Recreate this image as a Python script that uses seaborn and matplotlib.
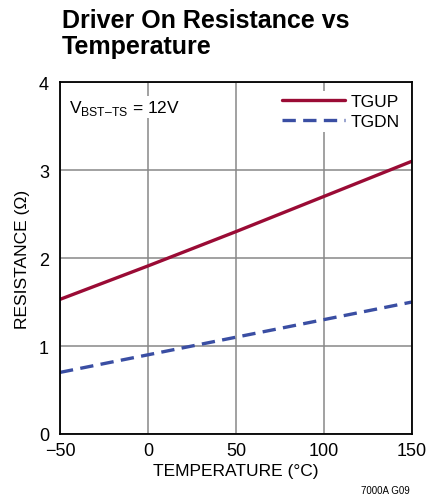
import numpy as np
import pandas as pd
import matplotlib
matplotlib.use("Agg")
import matplotlib.pyplot as plt
import seaborn as sns
from matplotlib.lines import Line2D

# data
temperature = [-50, 0, 50, 100, 150]
tgup = [1.53, 1.91, 2.30, 2.70, 3.10]
tgdn = [0.70, 0.90, 1.10, 1.30, 1.50]

x_ticks = [-50, 0, 50, 100, 150]
x_labels = ["\u221250", "0", "50", "100", "150"]
y_ticks = [0, 1, 2, 3, 4]

df = pd.DataFrame({
    "temp": temperature * 2,
    "res": tgup + tgdn,
    "driver": ["TGUP"] * len(tgup) + ["TGDN"] * len(tgdn),
})

sns.set_style("white")
fam = "Liberation Sans"
plt.rcParams["font.family"] = [fam, "DejaVu Sans"]
plt.rcParams["mathtext.fontset"] = "custom"
plt.rcParams["mathtext.rm"] = fam
for k in ["text.color", "axes.labelcolor", "xtick.color", "ytick.color"]:
    plt.rcParams[k] = "black"

fig = plt.figure(figsize=(4.42, 5.02), dpi=100)
ax = fig.add_axes([60 / 442, 67 / 502, 352 / 442, 352 / 502])

palette = {"TGUP": "#9a0b35", "TGDN": "#3a4ea3"}
sns.lineplot(data=df, x="temp", y="res", hue="driver", style="driver",
             palette=palette, dashes={"TGUP": "", "TGDN": (4, 2.2)},
             linewidth=2.4, ax=ax, legend=False)

ax.set_xlim(-50, 150)
ax.set_ylim(0, 4)
ax.set_xticks(x_ticks)
ax.set_xticklabels(x_labels)
ax.set_yticks(y_ticks)
ax.grid(True, color="#888888", linewidth=1.1)
ax.set_axisbelow(True)
for s in ax.spines.values():
    s.set_color("black")
    s.set_linewidth(1.3)
ax.tick_params(length=0, labelsize=13)
ax.tick_params(axis="x", pad=6)
ax.tick_params(axis="y", pad=8)

ax.set_xlabel("TEMPERATURE (\u00b0C)", fontsize=12.5, labelpad=3)
ax.set_ylabel("RESISTANCE (\u03a9)", fontsize=12.5, labelpad=6)

# legend drawn by hand to match the datasheet look
handles = [Line2D([], [], color=palette["TGUP"], lw=2.4),
           Line2D([], [], color=palette["TGDN"], lw=2.4, dashes=(4, 2.2))]
leg = ax.legend(handles, ["TGUP", "TGDN"], loc="upper right", frameon=True,
                fontsize=12.5, handlelength=3.6, handletextpad=0.35,
                labelspacing=0.25, borderaxespad=0.5, borderpad=0.2,
                facecolor="white", edgecolor="white", framealpha=1)
leg.get_frame().set_linewidth(0)

ax.text(0.025, 0.955, "V$_{\\mathregular{BST\u2013TS}}$ = 12V", transform=ax.transAxes,
        fontsize=12.5, va="top", ha="left",
        bbox=dict(facecolor="white", edgecolor="none", pad=1))

fig.text(62 / 442, 1 - 9 / 502, "Driver On Resistance vs\nTemperature", fontsize=18,
         fontweight="bold", va="top", ha="left", linespacing=1.1)
fig.text(410 / 442, 1 - 496 / 502, "7000A G09", fontsize=7, ha="right", va="bottom")

fig.savefig("out.png", dpi=100)
